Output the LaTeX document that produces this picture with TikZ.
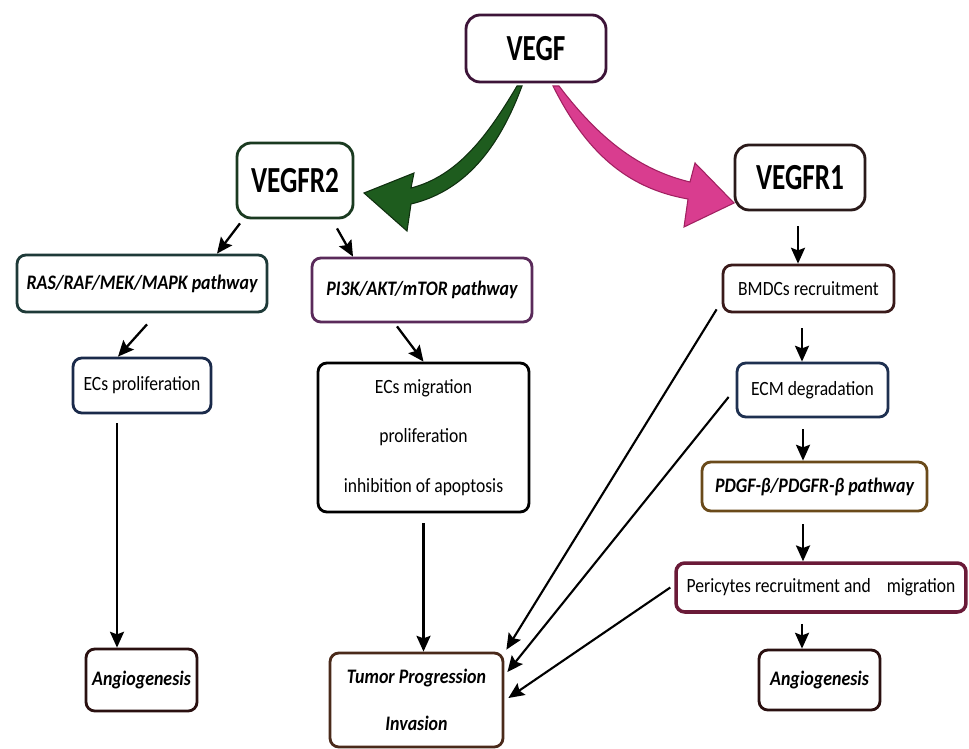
\documentclass[tikz,border=0pt]{standalone}
\usepackage{fontspec}
\setmainfont{Carlito}
\usetikzlibrary{arrows.meta,calc}
\newcommand{\tallA}[1]{\scalebox{1}[1.35]{#1}}
\newcommand{\tallB}[1]{\scalebox{1}[1.15]{#1}}
\definecolor{cvegf}{HTML}{3D1438}
\definecolor{cr2}{HTML}{1A3A20}
\definecolor{cr1}{HTML}{2A1A1A}
\definecolor{cras}{HTML}{1E3A38}
\definecolor{cpi}{HTML}{5A2A5A}
\definecolor{cecp}{HTML}{1A2A4A}
\definecolor{cbm}{HTML}{3A1A1A}
\definecolor{cecm}{HTML}{1E3050}
\definecolor{cpd}{HTML}{6A4A1A}
\definecolor{cper}{HTML}{6A1A38}
\definecolor{cang}{HTML}{2A1010}
\definecolor{ctum}{HTML}{4A2A1A}
\definecolor{gfill}{HTML}{1E5C1E}
\definecolor{gedge}{HTML}{0F2F0F}
\definecolor{mfill}{HTML}{D93D8F}
\definecolor{medge}{HTML}{A02060}
\begin{document}
\begin{tikzpicture}[x=0.02cm,y=-0.02cm,
  box/.style={draw, line width=1.6pt, rounded corners=5pt, fill=white, inner sep=0pt, align=center},
  bigbox/.style={box, rounded corners=8pt, font=\fontsize{15.5}{18}\selectfont\bfseries},
  pwbox/.style={box, font=\fontsize{10.2}{12}\selectfont\bfseries\itshape},
  rgbox/.style={box, font=\fontsize{10}{12}\selectfont},
  arr/.style={line width=1.3pt, -{Stealth[length=9pt,width=8pt,inset=1.5pt]}},
  longarr/.style={line width=1.2pt, -{Stealth[length=9pt,width=8pt,inset=1.5pt]}}
]
\useasboundingbox (0,0) rectangle (969,749);
\fill[white] (0,0) rectangle (969,749);

% nodes
\node[bigbox, draw=cvegf, minimum width=2.8cm, minimum height=1.34cm] (vegf) at (536,48.5) {\tallA{VEGF}};
\node[bigbox, draw=cr2, minimum width=2.32cm, minimum height=1.5cm] (r2) at (295,180.5) {\tallA{VEGFR2}};
\node[bigbox, draw=cr1, minimum width=2.6cm, minimum height=1.3cm] (r1) at (800,177.5) {\tallA{VEGFR1}};
\node[pwbox, draw=cras, minimum width=5.0cm, minimum height=1.14cm] (ras) at (142,283.5) {\tallB{RAS/RAF/MEK/MAPK pathway}};
\node[pwbox, draw=cpi, minimum width=4.4cm, minimum height=1.28cm] (pi) at (422,290) {\tallB{PI3K/AKT/mTOR pathway}};
\node[rgbox, draw=cecp, minimum width=2.76cm, minimum height=1.1cm] (ecsp) at (142,385.5) {\tallB{ECs proliferation}};
\node[rgbox, draw=black, minimum width=4.22cm, minimum height=2.98cm] (ecsm) at (423.5,437.5) {\tallB{ECs migration}\\[16pt]\tallB{proliferation}\\[16pt]\tallB{inhibition of apoptosis}};
\node[rgbox, draw=cbm, minimum width=3.42cm, minimum height=0.94cm] (bm) at (808.5,288.5) {\tallB{BMDCs recruitment}};
\node[rgbox, draw=cecm, minimum width=3.02cm, minimum height=1.08cm] (ecm) at (812.5,390) {\tallB{ECM degradation}};
\node[pwbox, draw=cpd, minimum width=4.5cm, minimum height=0.98cm] (pd) at (814.5,486.5) {\tallB{PDGF-β/PDGFR-β pathway}};
\node[rgbox, draw=cper, line width=2pt, minimum width=5.8cm, minimum height=0.98cm] (per) at (821,587.5) {\tallB{Pericytes recruitment and\hspace{0.9em}migration}};
\node[pwbox, draw=cang, minimum width=2.22cm, minimum height=1.24cm] (angl) at (141.5,680) {\tallB{Angiogenesis}};
\node[pwbox, draw=cang, minimum width=2.42cm, minimum height=1.2cm] (angr) at (819.5,680) {\tallB{Angiogenesis}};
\node[pwbox, draw=ctum, minimum width=3.46cm, minimum height=1.88cm] (tum) at (416.5,700) {\tallB{Tumor Progression}\\[15pt]\tallB{Invasion}};

% fat arrows
\filldraw[fill=gfill, draw=gedge, line width=0.6pt]
  (522,86) .. controls (502,140) and (470,190) .. (411,204)
  -- (407,231) -- (364,193) -- (414,173) -- (411,188)
  .. controls (458,176) and (488,135) .. (517,86) -- cycle;
\filldraw[fill=mfill, draw=medge, line width=0.6pt]
  (553,86) .. controls (585,150) and (625,188) .. (688,199)
  -- (684,227) -- (734,203) -- (695,163) -- (690,182)
  .. controls (640,170) and (600,140) .. (559,86) -- cycle;

% left column
\draw[arr] ($(r2.south)+(-55,4)$) -- ($(ras.north)+(75,0)$);
\draw[arr] ($(r2.south)+(42,9)$) -- ($(pi.north)+(-69,0)$);
\draw[arr] ($(ras.south)+(5,11)$) -- ($(ecsp.north)+(-24,0)$);
\draw[arr] ($(pi.south)+(-25,3)$) -- (ecsm.north);
\coordinate (a1) at ($(ecsp.south)+(-25,9)$);
\draw[arr] (a1) -- (a1 |- angl.north);
\coordinate (a2) at ($(ecsm.south)+(0,10)$);
\draw[arr] (a2) -- (a2 |- tum.north);

% right column
\coordinate (b1) at ($(r1.south)+(-2,15)$);
\draw[arr] (b1) -- (b1 |- bm.north);
\coordinate (b2) at ($(bm.south)+(-6.5,15)$);
\draw[arr] (b2) -- (b2 |- ecm.north);
\coordinate (b3) at ($(ecm.south)+(-9.5,11)$);
\draw[arr] (b3) -- (b3 |- pd.north);
\coordinate (b4) at ($(pd.south)+(-11.5,12)$);
\draw[arr] (b4) -- (b4 |- per.north);
\coordinate (b5) at ($(per.south)+(-19,10)$);
\draw[arr] (b5) -- (b5 |- angr.north);

% long connectors to tumor
\draw[longarr] ($(bm.south west)+(-5,-4)$) -- ($(tum.north east)+(2,-2)$);
\draw[longarr] ($(ecm.west)+(-7,7)$) -- ($(tum.east)+(3,-28)$);
\draw[longarr] ($(per.west)+(-4,0)$) -- ($(tum.east)+(4,-2)$);
\end{tikzpicture}
\end{document}
